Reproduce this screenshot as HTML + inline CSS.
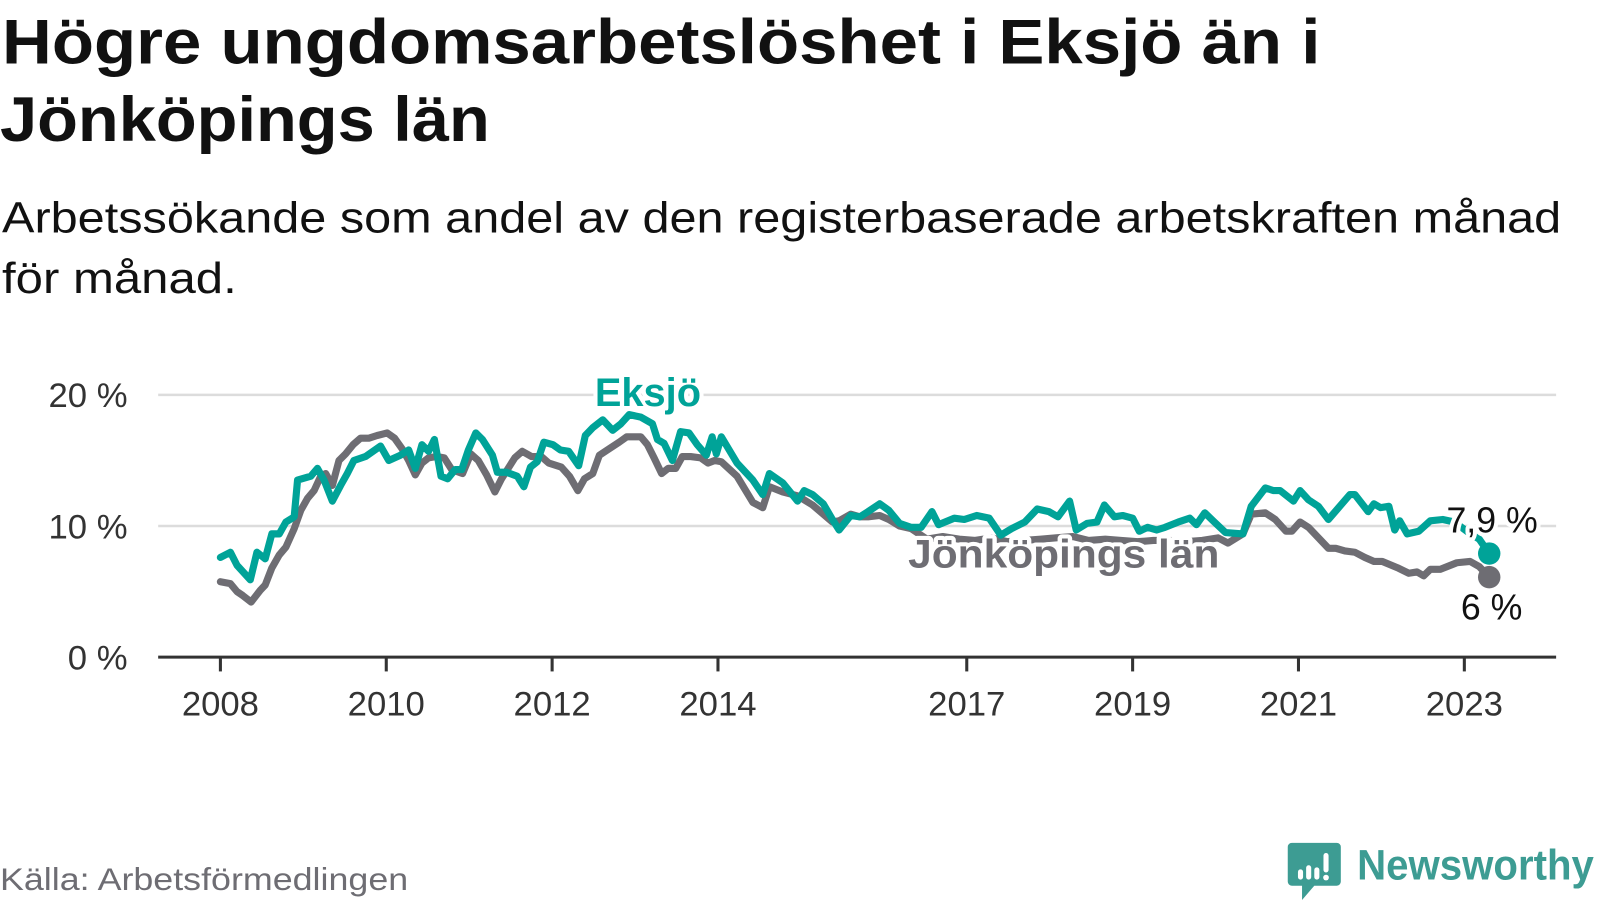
<!DOCTYPE html>
<html><head><meta charset="utf-8"><style>
html,body{margin:0;padding:0;background:#fff;}
svg{display:block;font-family:"Liberation Sans",sans-serif;}
</style></head><body>
<svg id="chart" width="1600" height="900" viewBox="0 0 1568 882" xmlns="http://www.w3.org/2000/svg">
<g>
<text x="2" y="62" font-size="62" font-weight="bold" fill="#111" textLength="1292" lengthAdjust="spacingAndGlyphs">Högre ungdomsarbetslöshet i Eksjö än i</text>
<text x="0" y="138" font-size="62" font-weight="bold" fill="#111" textLength="480" lengthAdjust="spacingAndGlyphs">Jönköpings län</text>
<text x="2" y="228" font-size="43" fill="#111" textLength="1528" lengthAdjust="spacingAndGlyphs">Arbetssökande som andel av den registerbaserade arbetskraften månad</text>
<text x="2" y="287" font-size="43" fill="#111" textLength="230" lengthAdjust="spacingAndGlyphs">för månad.</text>
</g>
<g id="grid"></g>
<g id="yaxis"></g>
<g id="xaxis"></g>
<g id="series"></g>
<g id="labels"></g>
<text x="0" y="872" font-size="31" fill="#6e6d73" textLength="400" lengthAdjust="spacingAndGlyphs">Källa: Arbetsförmedlingen</text>
<g>
<path d="M1266 826 h44 a4 4 0 0 1 4 4 v34 a4 4 0 0 1 -4 4 h-22 l-12 14 v-14 h-10 a4 4 0 0 1 -4 -4 v-34 a4 4 0 0 1 4 -4z" fill="#3d9c93"/>
<rect x="1272" y="852" width="5" height="10" rx="2.5" fill="#fff"/>
<rect x="1280" y="848" width="5" height="14" rx="2.5" fill="#fff"/>
<rect x="1288" y="850" width="5" height="12" rx="2.5" fill="#fff"/>
<rect x="1297" y="836" width="5" height="19" rx="2.5" fill="#fff"/>
<circle cx="1299.5" cy="860" r="2.8" fill="#fff"/>
<text x="1330" y="862" font-size="42" font-weight="bold" fill="#3d9c93" textLength="232" lengthAdjust="spacingAndGlyphs">Newsworthy</text>
</g>
</svg>
<script>
const yTicks = [0, 10, 20];
const yTickLabels = ["0 %", "10 %", "20 %"];
const xTicks = [2008, 2010, 2012, 2014, 2017, 2019, 2021, 2023];
const eksjoT = [2008.0,2008.12,2008.2,2008.36,2008.44,2008.54,2008.62,2008.71,2008.79,2008.89,2008.93,2009.09,2009.17,2009.25,2009.35,2009.45,2009.53,2009.61,2009.75,2009.93,2010.03,2010.17,2010.27,2010.35,2010.43,2010.51,2010.58,2010.66,2010.74,2010.83,2010.91,2010.99,2011.08,2011.16,2011.28,2011.34,2011.45,2011.58,2011.66,2011.74,2011.82,2011.90,2012.01,2012.10,2012.20,2012.32,2012.40,2012.49,2012.61,2012.73,2012.83,2012.93,2013.07,2013.21,2013.27,2013.35,2013.45,2013.55,2013.65,2013.75,2013.86,2013.93,2013.98,2014.04,2014.23,2014.42,2014.54,2014.62,2014.78,2014.96,2015.04,2015.14,2015.27,2015.38,2015.46,2015.60,2015.71,2015.81,2015.95,2016.06,2016.19,2016.33,2016.45,2016.58,2016.66,2016.85,2016.97,2017.12,2017.27,2017.41,2017.54,2017.70,2017.85,2017.99,2018.10,2018.24,2018.32,2018.45,2018.57,2018.66,2018.78,2018.88,2019.00,2019.08,2019.18,2019.29,2019.39,2019.55,2019.69,2019.77,2019.87,2019.97,2020.12,2020.33,2020.43,2020.60,2020.70,2020.78,2020.94,2021.02,2021.12,2021.24,2021.36,2021.47,2021.62,2021.68,2021.84,2021.91,2021.99,2022.09,2022.16,2022.22,2022.31,2022.45,2022.59,2022.74,2022.88,2023.03,2023.18,2023.30];
const eksjoV = [7.6,8.0,7.0,5.9,8.0,7.5,9.4,9.4,10.3,10.7,13.5,13.8,14.4,13.5,11.9,13.1,14.0,15.0,15.3,16.1,15.0,15.4,15.8,14.4,16.2,15.7,16.6,13.8,13.6,14.3,14.3,15.8,17.1,16.6,15.4,14.1,14.1,13.8,13.0,14.5,14.9,16.4,16.2,15.8,15.7,14.6,16.9,17.5,18.1,17.3,17.8,18.5,18.3,17.8,16.6,16.3,15.0,17.2,17.1,16.2,15.4,16.8,15.5,16.8,14.8,13.5,12.4,14.0,13.3,11.9,12.7,12.4,11.7,10.5,9.7,10.8,10.7,11.1,11.7,11.2,10.2,9.9,9.9,11.1,10.1,10.6,10.5,10.8,10.6,9.3,9.8,10.3,11.3,11.1,10.7,11.9,9.7,10.2,10.3,11.6,10.7,10.8,10.6,9.6,9.9,9.7,9.9,10.3,10.6,10.1,11.0,10.4,9.5,9.4,11.5,12.9,12.7,12.7,11.9,12.7,12.0,11.5,10.5,11.3,12.4,12.4,11.1,11.7,11.4,11.5,9.7,10.4,9.4,9.6,10.4,10.5,10.3,9.6,9.0,7.9];
const lanT = [2008.0,2008.12,2008.2,2008.27,2008.37,2008.48,2008.54,2008.62,2008.71,2008.79,2008.89,2008.97,2009.05,2009.13,2009.21,2009.27,2009.35,2009.43,2009.51,2009.60,2009.69,2009.79,2009.89,2010.01,2010.10,2010.19,2010.27,2010.35,2010.43,2010.51,2010.61,2010.70,2010.79,2010.92,2011.02,2011.11,2011.21,2011.31,2011.39,2011.47,2011.55,2011.64,2011.75,2011.87,2011.96,2012.11,2012.21,2012.31,2012.39,2012.49,2012.57,2012.69,2012.81,2012.90,2013.07,2013.15,2013.23,2013.32,2013.40,2013.49,2013.57,2013.67,2013.79,2013.88,2013.96,2014.04,2014.23,2014.42,2014.54,2014.62,2014.78,2014.96,2015.14,2015.27,2015.38,2015.46,2015.60,2015.71,2015.81,2015.95,2016.06,2016.19,2016.33,2016.52,2016.71,2016.91,2017.10,2017.30,2017.49,2017.69,2017.89,2018.08,2018.28,2018.47,2018.67,2018.86,2019.06,2019.25,2019.45,2019.64,2019.84,2020.03,2020.15,2020.33,2020.43,2020.60,2020.72,2020.85,2020.92,2021.02,2021.12,2021.36,2021.45,2021.56,2021.68,2021.80,2021.91,2022.01,2022.20,2022.33,2022.43,2022.51,2022.59,2022.71,2022.91,2023.07,2023.18,2023.30];
const lanV = [5.75,5.6,5.0,4.7,4.2,5.1,5.5,6.8,7.8,8.4,9.8,11.2,12.1,12.7,13.8,14.0,13.1,15.0,15.5,16.2,16.7,16.7,16.9,17.1,16.7,15.9,15.0,13.9,14.8,15.2,15.3,15.2,14.3,14.0,15.5,15.0,13.9,12.6,13.6,14.4,15.2,15.7,15.3,15.3,14.8,14.5,13.8,12.7,13.6,14.0,15.4,15.9,16.4,16.8,16.8,16.2,15.2,14.0,14.4,14.4,15.3,15.3,15.2,14.8,15.0,14.9,13.8,11.8,11.4,13.0,12.6,12.3,11.6,10.9,10.3,10.4,10.9,10.7,10.7,10.8,10.5,10.0,9.8,9.0,9.2,9.0,8.9,9.1,8.8,8.9,9.0,9.1,9.2,8.9,9.0,8.9,8.8,8.9,8.9,8.8,8.9,9.1,8.7,9.4,10.9,11.0,10.5,9.6,9.6,10.3,9.9,8.3,8.3,8.1,8.0,7.6,7.3,7.3,6.8,6.4,6.5,6.2,6.7,6.7,7.2,7.3,6.9,6.1];

const NS = "http://www.w3.org/2000/svg";
const X0 = 216, PX_YEAR = 81.27, Y0 = 644, PX_PCT = 12.85;
function xScale(t){ return X0 + (t - 2008) * PX_YEAR; }
function yScale(v){ return Y0 - v * PX_PCT; }
function mk(tag, attrs, parent){ const e = document.createElementNS(NS, tag); for (const k in attrs) e.setAttribute(k, attrs[k]); parent.appendChild(e); return e; }

const grid = document.getElementById('grid'), yaxis = document.getElementById('yaxis'), xaxis = document.getElementById('xaxis');
yTicks.forEach((v, i) => {
  if (v > 0) {
    const gl = mk('line', {x1:155, x2:1525, y1:yScale(v), y2:yScale(v), stroke:'#dcdcdc', 'stroke-width':2.5}, grid);
    
    
  }
  const t = mk('text', {x:125, y:yScale(v)+12, 'font-size':34, fill:'#333', 'text-anchor':'end'}, yaxis);
  t.textContent = yTickLabels[i];
  
  
});
const ax = mk('line', {x1:155, x2:1525, y1:Y0, y2:Y0, stroke:'#333', 'stroke-width':3}, xaxis);


xTicks.forEach(yr => {
  const tk = mk('line', {x1:xScale(yr), x2:xScale(yr), y1:Y0, y2:Y0+14, stroke:'#333', 'stroke-width':3}, xaxis);
  
  
  const t = mk('text', {x:xScale(yr), y:701, 'font-size':34, fill:'#333', 'text-anchor':'middle'}, xaxis);
  t.textContent = String(yr);
  
  
});

const series = document.getElementById('series');
function drawLine(T, V, color, name){
  const d = T.map((t, i) => (i ? 'L' : 'M') + xScale(t).toFixed(1) + ' ' + yScale(V[i]).toFixed(1)).join(' ');
  const p = mk('path', {d:d, fill:'none', stroke:color, 'stroke-width':7, 'stroke-linejoin':'round', 'stroke-linecap':'round'}, series);
  
  
  const n = T.length - 1;
  const c = mk('circle', {cx:xScale(T[n]), cy:yScale(V[n]), r:11, fill:color}, series);
  
  
}
drawLine(lanT, lanV, '#6e6d73', 'jonkopings-lan-line');
drawLine(eksjoT, eksjoV, '#00a398', 'eksjo-line');

const labels = document.getElementById('labels');
function lbl(x, y, txt, color, size, bold, name, anchor, len){
  const base = {x:x, y:y, 'font-size':size, 'font-weight':bold?'bold':'normal', 'text-anchor':anchor||'start'};
  if (len) { base.textLength = len; base.lengthAdjust = 'spacingAndGlyphs'; }
  const h = mk('text', Object.assign({fill:'#fff', stroke:'#fff', 'stroke-width':8, 'stroke-linejoin':'round'}, base), labels);
  h.textContent = txt;
  
  
  const t = mk('text', Object.assign({fill:color}, base), labels);
  t.textContent = txt;
  
  
}
const eN = eksjoT.length - 1, lN = lanT.length - 1;
lbl(583, 398, 'Eksjö', '#00a398', 39, true, 'eksjo-label', 'start', 104);
lbl(890, 556, 'Jönköpings län', '#6e6d73', 39, true, 'jonkopings-lan-label', 'start', 305);
lbl(1507, 522, String(eksjoV[eN]).replace('.', ',') + ' %', '#111', 35, false, 'eksjo-value-label', 'end');
lbl(1492, 607, Math.round(lanV[lN]) + ' %', '#111', 35, false, 'lan-value-label', 'end');
</script>
</body></html>
